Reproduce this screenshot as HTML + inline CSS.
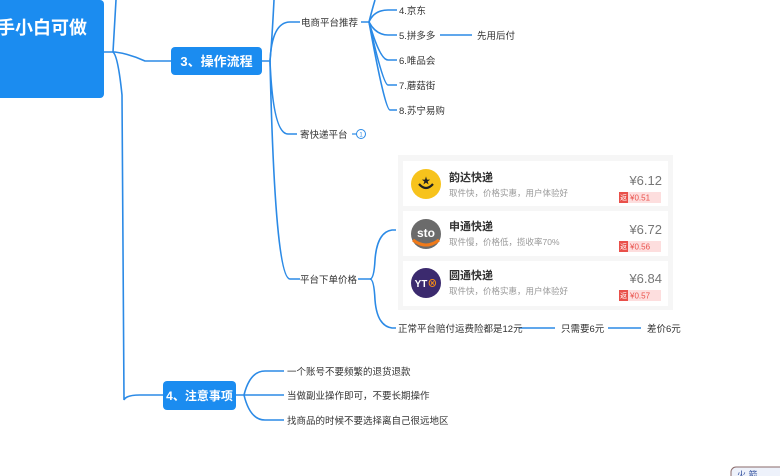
<!DOCTYPE html>
<html><head><meta charset="utf-8"><style>
html,body{margin:0;padding:0;background:#fff;width:780px;height:476px;overflow:hidden}
svg{display:block}
text{font-family:"Liberation Sans","Noto Sans CJK SC",sans-serif}
</style></head><body>
<svg width="780" height="476" viewBox="0 0 780 476" xmlns="http://www.w3.org/2000/svg">
<g fill="none" stroke="#2b8ae6" stroke-width="1.6">
  <path d="M116 0 L113 52 Q118 56 122 95 L124 400 Q126 395 140 395 L163 395"/>
  <path d="M104 52 L115 52 Q130 54 145 61 L171 61"/>
  <path d="M262 61 L270 61 Q272 40 274 0"/>
  <path d="M270 61 Q272 22 290 22 L300 22"/>
  <path d="M270 61 Q273 134 288 134 L297 134"/>
  <path d="M270 61 Q275 279 290 279 L300 279"/>
  <path d="M361 22 L369 22 Q372 10 375 0"/>
  <path d="M369 22 Q374 10 388 10 L397 10"/>
  <path d="M369 22 Q376 35 388 35 L397 35"/>
  <path d="M369 22 Q380 60 388 60 L397 60"/>
  <path d="M369 22 Q383 85 388 85 L397 85"/>
  <path d="M369 22 Q385 110 390 110 L397 110"/>
  <path d="M440 35 L472 35"/>
  <path d="M358 279 L370 279 Q374 279 375 260 Q377 232 392 230 L396 230"/>
  <path d="M370 279 Q374 279 375 300 Q377 326 392 328 L396 328"/>
  <path d="M519 328 L555 328"/>
  <path d="M608 328 L641 328"/>
  <path d="M236 395 L244 395 Q250 371 265 371 L284 371"/>
  <path d="M244 395 L284 395"/>
  <path d="M244 395 Q250 420 265 420 L284 420"/>
</g>
<rect x="-10" y="0" width="114" height="98" rx="4" fill="#1b8cf0"/>
<text x="-3" y="34" fill="#fff" font-size="18" font-weight="bold">手小白可做</text>
<rect x="171" y="47" width="91" height="28" rx="4" fill="#1b8cf0"/>
<text x="216.5" y="66" fill="#fff" font-size="13" font-weight="bold" text-anchor="middle">3、操作流程</text>
<rect x="163" y="381" width="73" height="29" rx="4" fill="#1b8cf0"/>
<text x="199.5" y="400" fill="#fff" font-size="12" font-weight="bold" text-anchor="middle">4、注意事项</text>
<g font-size="9.5" fill="#333">
  <text x="301" y="26">电商平台推荐</text>
  <text x="399" y="14">4.京东</text>
  <text x="399" y="39">5.拼多多</text>
  <text x="477" y="39">先用后付</text>
  <text x="399" y="64">6.唯品会</text>
  <text x="399" y="89">7.蘑菇街</text>
  <text x="399" y="114">8.苏宁易购</text>
  <text x="300" y="138">寄快递平台</text>
  <text x="300" y="283">平台下单价格</text>
  <text x="398" y="332">正常平台赔付运费险都是12元</text>
  <text x="561" y="332">只需要6元</text>
  <text x="647" y="332">差价6元</text>
  <text x="287" y="375">一个账号不要频繁的退货退款</text>
  <text x="287" y="399">当做副业操作即可，不要长期操作</text>
  <text x="287" y="424">找商品的时候不要选择离自己很远地区</text>
</g>
<line x1="352" y1="134" x2="357" y2="134" stroke="#2b8ae6" stroke-width="1.2"/>
<circle cx="361" cy="134" r="4.5" fill="#fff" stroke="#2b8ae6" stroke-width="1"/>
<text x="361" y="136.5" font-size="6" fill="#2b8ae6" text-anchor="middle">1</text>
<rect x="398" y="155" width="275" height="155" fill="#f6f6f6"/>
<g>
  <rect x="403" y="161" width="265" height="45" fill="#fff"/>
  <rect x="403" y="211" width="265" height="45" fill="#fff"/>
  <rect x="403" y="261" width="265" height="45" fill="#fff"/>
  <circle cx="426" cy="184" r="15" fill="#f7c31c"/>
  <path d="M419 184 Q426 192 433 184" stroke="#222" stroke-width="2.2" fill="none"/>
  <text x="426" y="184" font-size="9" text-anchor="middle" fill="#222">★</text>
  <circle cx="426" cy="234" r="15" fill="#6b6b6b"/>
  <path d="M413 240 Q426 250 439 240" stroke="#f07a1a" stroke-width="3" fill="none"/>
  <text x="426" y="237" font-size="12" font-weight="bold" text-anchor="middle" fill="#fff">sto</text>
  <circle cx="426" cy="283" r="15" fill="#3b2a6e"/>
  <text x="426" y="287" font-size="10" font-weight="bold" text-anchor="middle" fill="#fff">YT<tspan fill="#f08a1a">⊗</tspan></text>
  <g font-size="11" font-weight="bold" fill="#333">
    <text x="449" y="181">韵达快递</text>
    <text x="449" y="230">申通快递</text>
    <text x="449" y="279">圆通快递</text>
  </g>
  <g font-size="8.5" fill="#999">
    <text x="449" y="196">取件快，价格实惠，用户体验好</text>
    <text x="449" y="245">取件慢，价格低，揽收率70%</text>
    <text x="449" y="294">取件快，价格实惠，用户体验好</text>
  </g>
  <g font-size="13" fill="#777" text-anchor="end">
    <text x="662" y="185">¥6.12</text>
    <text x="662" y="234">¥6.72</text>
    <text x="662" y="283">¥6.84</text>
  </g>
  <g>
    <rect x="619" y="192" width="42" height="11" fill="#fddede"/><rect x="619" y="192" width="9" height="11" fill="#e9504a"/>
    <rect x="619" y="241" width="42" height="11" fill="#fddede"/><rect x="619" y="241" width="9" height="11" fill="#e9504a"/>
    <rect x="619" y="290" width="42" height="11" fill="#fddede"/><rect x="619" y="290" width="9" height="11" fill="#e9504a"/>
  </g>
  <g font-size="8" fill="#e9504a">
    <text x="630" y="200.5">¥0.51</text><text x="630" y="249.5">¥0.56</text><text x="630" y="298.5">¥0.57</text>
  </g>
  <g font-size="7" fill="#fff"><text x="620" y="200">返</text><text x="620" y="249">返</text><text x="620" y="298">返</text></g>
</g>
<rect x="731" y="467" width="60" height="20" rx="5" fill="#eef2fb" stroke="#8a6a6a" stroke-width="1"/>
<text x="737" y="478" font-size="9" fill="#2b4a9a">火 箭</text>
</svg>
</body></html>
